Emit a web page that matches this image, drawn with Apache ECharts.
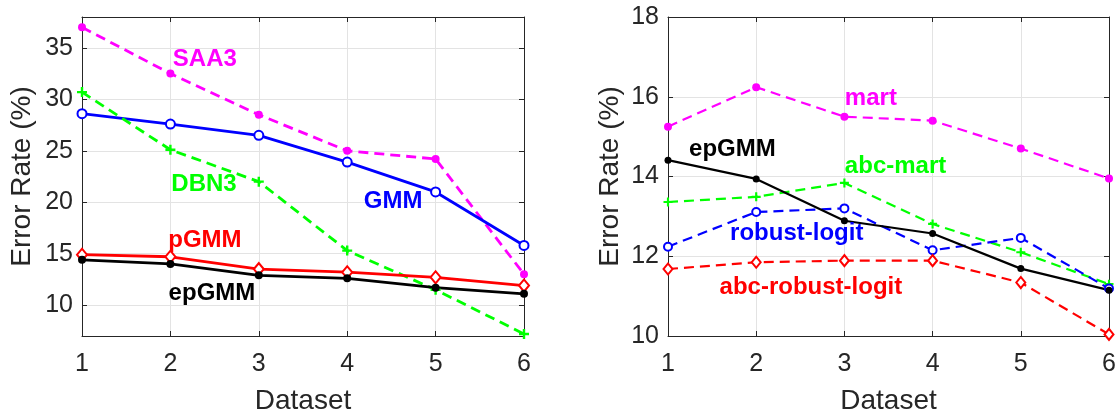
<!DOCTYPE html>
<html><head><meta charset="utf-8">
<script src="https://cdn.jsdelivr.net/npm/echarts@6/dist/echarts.min.js"></script>
<style>html,body{margin:0;padding:0;background:#fff}#c{width:1120px;height:411px}</style>
</head><body><div id="c"></div>
<script>
// ---- data ----
const datasets = [1, 2, 3, 4, 5, 6];
const leftSAA3   = [37.0, 32.5, 28.5, 25.0, 24.2, 13.0];
const leftGMM    = [28.6, 27.6, 26.5, 23.9, 21.0, 15.8];
const leftDBN3   = [30.7, 25.1, 22.0, 15.3, 11.5, 7.2];
const leftPGMM   = [14.9, 14.7, 13.5, 13.2, 12.7, 11.9];
const leftEpGMM  = [14.4, 14.0, 12.9, 12.6, 11.7, 11.1];
const rightMart            = [15.25, 16.24, 15.50, 15.40, 14.70, 13.95];
const rightEpGMM           = [14.41, 13.94, 12.89, 12.57, 11.69, 11.15];
const rightAbcMart         = [13.36, 13.49, 13.84, 12.81, 12.10, 11.30];
const rightRobustLogit     = [12.24, 13.11, 13.20, 12.15, 12.46, 11.19];
const rightAbcRobustLogit  = [11.68, 11.85, 11.89, 11.89, 11.34, 10.04];
const xTitle = 'Dataset';
const yTitle = 'Error Rate (%)';

// ---- styling / building ----
const FONT = 'Liberation Sans, Arial, sans-serif';
const AX = '#262626';
const GRIDC = '#e3e3e3';
const PLUS = 'path://M-1.2,-5H1.2V-1.2H5V1.2H1.2V5H-1.2V1.2H-5V-1.2H-1.2Z';

function pairs(ys) { return datasets.map((x, i) => [x, ys[i]]); }

function line(name, ys, color, dashed, symbol, size, g, width, empty) {
  return {
    type: 'line', name, data: pairs(ys), xAxisIndex: g * 2, yAxisIndex: g * 2,
    clip: false, symbol, symbolSize: size, showAllSymbol: true,
    lineStyle: { color, width, type: dashed ? [10, 6] : 'solid' },
    itemStyle: { color, borderColor: color, borderWidth: empty ? 2 : 0, opacity: 1 },
    emphasis: { disabled: true }, animation: false, z: 3
  };
}

function note(text, x, y, color, g) {
  return {
    type: 'scatter', data: [[x, y]], xAxisIndex: g * 2, yAxisIndex: g * 2,
    symbolSize: 0, silent: true, animation: false, z: 5,
    itemStyle: { opacity: 1 },
    label: { show: true, position: 'inside', formatter: text, color, opacity: 1,
      textBorderWidth: 0, fontFamily: FONT, fontWeight: 'bold', fontSize: 24 }
  };
}

function xAxes(g) {
  const base = { type: 'value', gridIndex: g, min: 1, max: 6, interval: 1,
    splitLine: { show: true, lineStyle: { color: GRIDC, width: 1 } },
    axisLine: { show: true, onZero: false, lineStyle: { color: AX, width: 1 } },
    axisTick: { show: true, inside: true, length: 5, lineStyle: { color: AX } } };
  return [
    Object.assign({}, base, { position: 'bottom',
      axisLabel: { show: true, color: AX, fontFamily: FONT, fontSize: 25, margin: 16 },
      name: xTitle, nameLocation: 'middle', nameGap: 51,
      nameTextStyle: { color: AX, fontFamily: FONT, fontSize: 28 } }),
    Object.assign({}, base, { position: 'top', splitLine: { show: false }, axisLabel: { show: false } })
  ];
}

function yAxes(g, min, max, interval, gap, fmt) {
  const base = { type: 'value', gridIndex: g, min, max,
    splitLine: { show: true, lineStyle: { color: GRIDC, width: 1 } },
    axisLine: { show: true, onZero: false, lineStyle: { color: AX, width: 1 } },
    axisTick: { show: true, inside: true, length: 5, lineStyle: { color: AX } } };
  if (interval) base.interval = interval;
  return [
    Object.assign({}, base, { position: 'left',
      axisLabel: { show: true, color: AX, fontFamily: FONT, fontSize: 25, margin: 9, formatter: fmt },
      name: yTitle, nameLocation: 'middle', nameGap: gap, nameRotate: 90,
      nameTextStyle: { color: AX, fontFamily: FONT, fontSize: 28 } }),
    Object.assign({}, base, { position: 'right', splitLine: { show: false }, axisLabel: { show: false } })
  ];
}

const option = {
  backgroundColor: '#fff',
  animation: false,
  grid: [
    { left: 82, right: 596, top: 17, bottom: 75, containLabel: false, outerBoundsMode: 'none' },
    { left: 668, right: 11, top: 17, bottom: 75, containLabel: false, outerBoundsMode: 'none' }
  ],
  xAxis: [...xAxes(0), ...xAxes(1)],
  yAxis: [
    ...yAxes(0, 7, 38, null, 46, v => (v % 5 === 0 ? String(v) : '')),
    ...yAxes(1, 10, 18, 2, 44, v => String(v))
  ],
  series: [
    line('SAA3', leftSAA3, '#ff00ff', true, 'circle', 8, 0, 2.8, false),
    line('GMM', leftGMM, '#0000ff', false, 'emptyCircle', 9, 0, 2.8, true),
    line('DBN3', leftDBN3, '#00ff00', true, PLUS, 10, 0, 2.8, false),
    line('pGMM', leftPGMM, '#ff0000', false, 'emptyDiamond', [10, 12], 0, 2.8, true),
    line('epGMM', leftEpGMM, '#000000', false, 'circle', 8, 0, 2.8, false),
    line('mart', rightMart, '#ff00ff', true, 'circle', 8, 1, 2.2, false),
    line('abc-mart', rightAbcMart, '#00ff00', true, PLUS, 9, 1, 2.2, false),
    line('robust-logit', rightRobustLogit, '#0000ff', true, 'emptyCircle', 8, 1, 2.2, true),
    line('abc-robust-logit', rightAbcRobustLogit, '#ff0000', true, 'emptyDiamond', [9, 11], 1, 2.2, true),
    line('epGMM', rightEpGMM, '#000000', false, 'circle', 7, 1, 2.2, false),
    note('SAA3', 2.39, 33.85, '#ff00ff', 0),
    note('DBN3', 2.38, 21.75, '#00ff00', 0),
    note('GMM', 4.52, 20.05, '#0000ff', 0),
    note('pGMM', 2.39, 16.25, '#ff0000', 0),
    note('epGMM', 2.47, 11.1, '#000000', 0),
    note('mart', 3.30, 15.95, '#ff00ff', 1),
    note('epGMM', 1.73, 14.69, '#000000', 1),
    note('abc-mart', 3.58, 14.26, '#00ff00', 1),
    note('robust-logit', 2.46, 12.57, '#0000ff', 1),
    note('abc-robust-logit', 2.62, 11.21, '#ff0000', 1)
  ]
};

const chart = echarts.init(document.getElementById('c'), null, { renderer: 'canvas' });
chart.setOption(option);
</script></body></html>
